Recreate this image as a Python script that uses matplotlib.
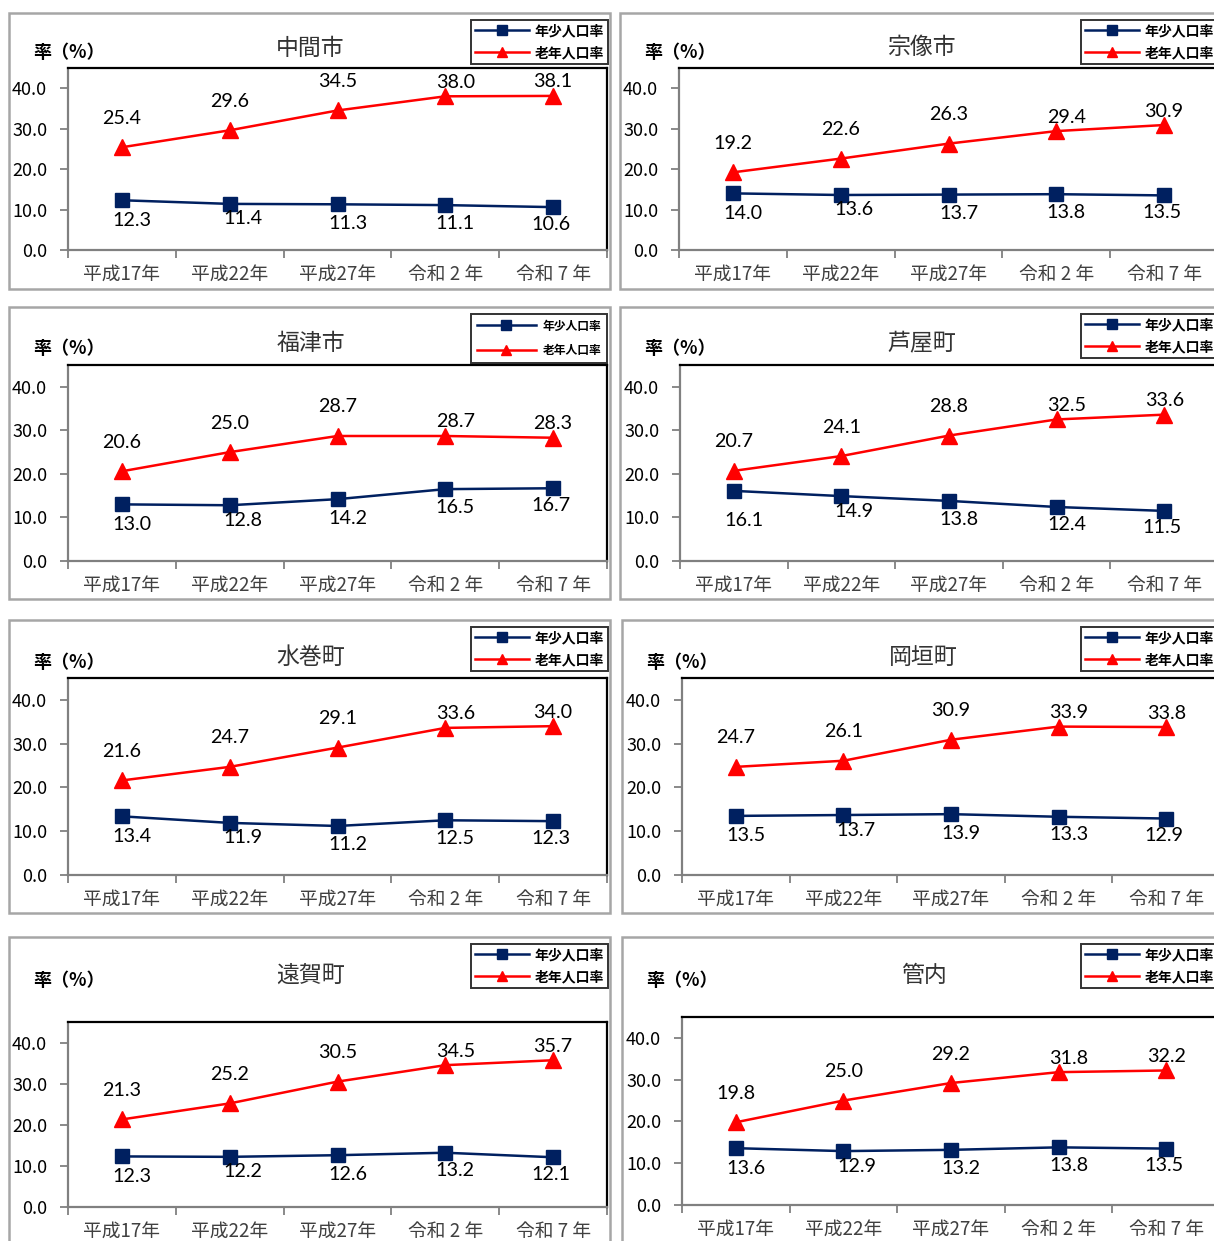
import matplotlib
matplotlib.use("Agg")
import matplotlib.pyplot as plt
from matplotlib.patches import Rectangle
from matplotlib.ticker import FuncFormatter

plt.rcParams['font.family'] = ['Noto Sans CJK JP', 'DejaVu Sans']

# ---- data -------------------------------------------------------------
categories = ["平成17年", "平成22年", "平成27年", "令和 2 年", "令和 7 年"]
series_names = ["年少人口率", "老年人口率"]

nakama_youth = [12.3, 11.4, 11.3, 11.1, 10.6]
nakama_elderly = [25.4, 29.6, 34.5, 38.0, 38.1]

munakata_youth = [14.0, 13.6, 13.7, 13.8, 13.5]
munakata_elderly = [19.2, 22.6, 26.3, 29.4, 30.9]

fukutsu_youth = [13.0, 12.8, 14.2, 16.5, 16.7]
fukutsu_elderly = [20.6, 25.0, 28.7, 28.7, 28.3]

ashiya_youth = [16.1, 14.9, 13.8, 12.4, 11.5]
ashiya_elderly = [20.7, 24.1, 28.8, 32.5, 33.6]

mizumaki_youth = [13.4, 11.9, 11.2, 12.5, 12.3]
mizumaki_elderly = [21.6, 24.7, 29.1, 33.6, 34.0]

okagaki_youth = [13.5, 13.7, 13.9, 13.3, 12.9]
okagaki_elderly = [24.7, 26.1, 30.9, 33.9, 33.8]

onga_youth = [12.3, 12.2, 12.6, 13.2, 12.1]
onga_elderly = [21.3, 25.2, 30.5, 34.5, 35.7]

kannai_youth = [13.6, 12.9, 13.2, 13.8, 13.5]
kannai_elderly = [19.8, 25.0, 29.2, 31.8, 32.2]

# ---- layout (pixel boxes on a 1214 x 1241 canvas) -----------------------
W, H = 1214, 1241
fig = plt.figure(figsize=(W / 100, H / 100), dpi=100)
fig.patch.set_facecolor("white")


def fbox(x0, y0, x1, y1):
    return [x0 / W, 1 - y1 / H, (x1 - x0) / W, (y1 - y0) / H]


def fpt(x, y):
    return (x / W, 1 - y / H)


# legend styles: font size, handle length, handle/text pad, border pad, label spacing
LEG_STD = (10, 3.9, 0.4, 0.3, 0.56)
LEG_SMALL = (8.5, 5.0, 0.6, 0.47, 1.0)

panels = [
    # title, youth, elderly, frame, plot area, legend top-right, legend style, unit-label y
    ("中間市", nakama_youth, nakama_elderly,
     (9, 13, 610, 289), (68, 68, 607, 250), (608, 20), LEG_STD, 53),
    ("宗像市", munakata_youth, munakata_elderly,
     (620, 13, 1221, 289), (679, 68, 1218, 250), (1218, 20), LEG_STD, 53),
    ("福津市", fukutsu_youth, fukutsu_elderly,
     (9, 307, 610, 599), (68, 365, 607, 561), (607, 314), LEG_SMALL, 348),
    ("芦屋町", ashiya_youth, ashiya_elderly,
     (620, 307, 1221, 599), (680, 365, 1218, 561), (1218, 314), LEG_STD, 348),
    ("水巻町", mizumaki_youth, mizumaki_elderly,
     (9, 620, 610, 913), (68, 678, 607, 875), (608, 627), LEG_STD, 662),
    ("岡垣町", okagaki_youth, okagaki_elderly,
     (622, 620, 1223, 913), (682, 678, 1220, 875), (1218, 627), LEG_STD, 662),
    ("遠賀町", onga_youth, onga_elderly,
     (9, 937, 610, 1250), (68, 1022, 607, 1207), (608, 944), LEG_STD, 980),
    ("管内", kannai_youth, kannai_elderly,
     (622, 937, 1223, 1250), (682, 1017, 1220, 1205), (1218, 944), LEG_STD, 980),
]

NAVY = "#002060"
RED = "#ff0000"
AXIS_GRAY = "#808080"

# label offsets in pixels (dx, dy) relative to each marker
youth_offsets = [(10, -20), (13, -15), (10, -19), (10, -18), (-2, -17)]
elderly_offsets = [(0, 29), (0, 29), (0, 29), (10, 14), (0, 14)]
youth_override = {("芦屋町", 0): (10, -30)}

for title, youth, elderly, frame, plot, leg_tr, leg_style, unit_y in panels:
    fx0, fy0, fx1, fy1 = frame
    fig.patches.append(Rectangle(fpt(fx0, fy1), (fx1 - fx0) / W, (fy1 - fy0) / H,
                                 transform=fig.transFigure, facecolor="white",
                                 edgecolor="#a6a6a6", linewidth=1.8, zorder=-5))

    ax = fig.add_axes(fbox(*plot))
    ax.set_zorder(2)
    x = list(range(len(categories)))
    l1, = ax.plot(x, youth, color=NAVY, lw=1.8, marker="s", ms=10,
                  mfc=NAVY, mec=NAVY, zorder=3)
    l2, = ax.plot(x, elderly, color=RED, lw=1.8, marker="^", ms=11,
                  mfc=RED, mec=RED, zorder=3)

    for i, v in enumerate(youth):
        dx, dy = youth_override.get((title, i), youth_offsets[i])
        ax.annotate(f"{v:.1f}", (i, v), xytext=(dx, dy), textcoords="offset pixels",
                    ha="center", va="center", fontsize=14.2, color="black",
                    family=["Lato", "DejaVu Sans"], zorder=4)
    for i, v in enumerate(elderly):
        dx, dy = elderly_offsets[i]
        ax.annotate(f"{v:.1f}", (i, v), xytext=(dx, dy), textcoords="offset pixels",
                    ha="center", va="center", fontsize=14.2, color="black",
                    family=["Lato", "DejaVu Sans"], zorder=4)

    ax.set_xlim(-0.5, len(categories) - 0.5)
    ax.set_ylim(0, 45)
    ax.set_yticks([0, 10, 20, 30, 40])
    ax.yaxis.set_major_formatter(FuncFormatter(lambda v, p: f"{v:.1f}"))
    ax.set_xticks(x)
    ax.set_xticklabels(categories)
    ax.set_xticks([i - 0.5 for i in range(len(categories) + 1)], minor=True)
    ax.tick_params(axis="x", which="major", length=0, pad=10, labelsize=13.5,
                   labelcolor="#404040")
    ax.tick_params(axis="x", which="minor", length=6, width=1.3, color=AXIS_GRAY,
                   direction="out")
    ax.tick_params(axis="y", length=6, width=1.3, color=AXIS_GRAY, pad=9,
                   labelsize=13, labelcolor="black")
    for side in ("top", "right"):
        ax.spines[side].set_color("black")
        ax.spines[side].set_linewidth(1.6)
    for side in ("left", "bottom"):
        ax.spines[side].set_color(AXIS_GRAY)
        ax.spines[side].set_linewidth(1.6)

    # chart title and unit label
    fig.text(*fpt((fx0 + fx1) / 2 + 1, unit_y - 5), title, ha="center", va="center",
             fontsize=16.5, color="#333333")
    fig.text(*fpt(fx0 + 24, unit_y), "率（%）", ha="left", va="center",
             fontsize=13, fontweight="bold", color="black")

    fs, hl, htp, bp, ls = leg_style
    leg = ax.legend([l1, l2], series_names, loc="upper right",
                    bbox_to_anchor=fpt(*leg_tr), bbox_transform=fig.transFigure,
                    prop={"family": ["Noto Sans CJK JP"], "weight": "bold",
                          "size": fs},
                    frameon=True, fancybox=False, edgecolor="black",
                    handlelength=hl, handletextpad=htp, borderpad=bp,
                    labelspacing=ls, markerscale=0.7, borderaxespad=0)
    leg.get_frame().set_linewidth(1.4)
    leg.set_zorder(10)

fig.savefig("out.png", dpi=100, facecolor="white")
